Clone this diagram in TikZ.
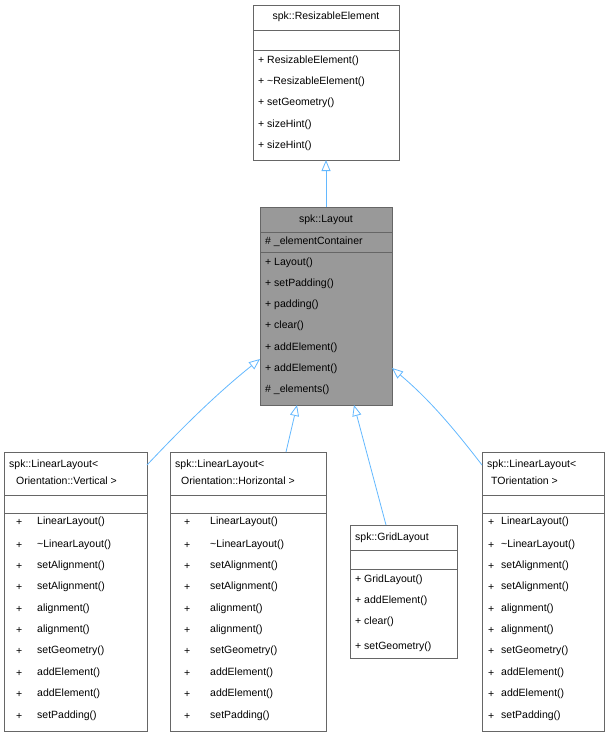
\documentclass[tikz,border=0pt]{standalone}
\usepackage{fontspec}
\setmainfont{Liberation Sans}
\usetikzlibrary{arrows.meta}
\definecolor{edge}{HTML}{63B8FF}
\definecolor{bord}{HTML}{666666}
\tikzset{
 box/.style={draw=bord,fill=white,anchor=north west,inner sep=0,outer sep=0},
 gbox/.style={box,fill=black!40},
 t/.style={anchor=west,inner sep=0,font=\fontsize{10.5}{12}\selectfont},
 sep/.style={draw=bord},
 inh/.style={draw=edge,line width=0.8pt,-{Triangle[open,length=11pt,width=9pt,fill=white]}},
}
\begin{document}
\begin{tikzpicture}[x=1pt,y=-1pt]
\useasboundingbox (0,0) rectangle (610,736);
% ResizableElement
\node[box,minimum width=146pt,minimum height=155pt] (re) at (253,5) {};
\draw[sep] (253,30)--(399,30) (253,50)--(399,50);
\node[t,anchor=center] at (326,17) {spk::ResizableElement};
\foreach \y/\s in {61/+ ResizableElement(),82/+ \textasciitilde ResizableElement(),103/+ setGeometry(),125/+ sizeHint(),146/+ sizeHint()}
 \node[t] at (258,\y) {\s};
% Layout
\node[gbox,minimum width=132pt,minimum height=198pt] (lay) at (260,207) {};
\draw[sep] (260,232)--(392,232) (260,252)--(392,252);
\node[t,anchor=center] at (326,220) {spk::Layout};
\node[t] at (265,242) {\# \_elementContainer};
\foreach \y/\s in {263/+ Layout(),284/+ setPadding(),305/+ padding(),326/+ clear(),348/+ addElement(),369/+ addElement(),390/\# \_elements()}
 \node[t] at (265,\y) {\s};
% Vertical
\node[box,minimum width=143pt,minimum height=279pt] (v) at (4,452) {};
\draw[sep] (4,495)--(147,495) (4,513)--(147,513);
\node[t] at (9,465) {spk::LinearLayout<};
\node[t] at (16,481) {Orientation::Vertical >};
% Horizontal
\node[box,minimum width=156pt,minimum height=279pt] (h) at (170,452) {};
\draw[sep] (170,495)--(326,495) (170,513)--(326,513);
\node[t] at (175,465) {spk::LinearLayout<};
\node[t] at (181,481) {Orientation::Horizontal >};
% TOrientation
\node[box,minimum width=122pt,minimum height=279pt] (to) at (482,452) {};
\draw[sep] (482,495)--(604,495) (482,513)--(604,513);
\node[t] at (487,465) {spk::LinearLayout<};
\node[t] at (491,481) {TOrientation >};
\foreach \x/\w in {16/21,184/26,488/13}{
 \foreach \y/\s in {522/LinearLayout(),545/\textasciitilde LinearLayout(),566/setAlignment(),587/setAlignment(),609/alignment(),630/alignment(),651/setGeometry(),673/addElement(),694/addElement(),716/setPadding()}
  {\node[t] at (\x,\y) {+}; \node[t] at (\x+\w,\y) {\s};}
}
% Grid
\node[box,minimum width=107pt,minimum height=133pt] (g) at (350,525) {};
\draw[sep] (350,550)--(457,550) (350,569)--(457,569);
\node[t] at (355,538) {spk::GridLayout};
\foreach \y/\s in {580/+ GridLayout(),601/+ addElement(),622/+ clear(),647/+ setGeometry()}
 \node[t] at (355,\y) {\s};
% edges
\coordinate (lt) at (326,207);
\coordinate (reb) at (326,160);
\draw[inh] (lt) -- (reb);
\draw[inh] (147,465) .. controls (180,430) and (215,395) .. (260,359);
\draw[inh] (286,452) -- (297,405);
\draw[inh] (386,525) -- (354,405);
\draw[inh] (482,465) .. controls (455,430) and (430,400) .. (392,368);
\end{tikzpicture}
\end{document}
